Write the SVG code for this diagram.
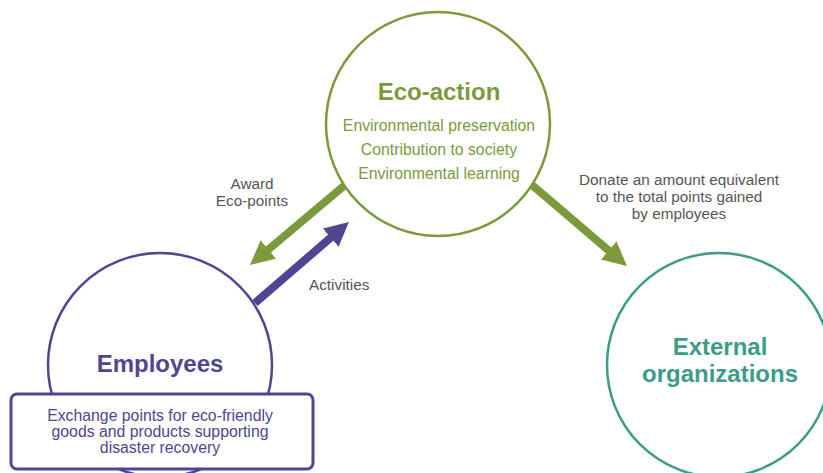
<svg xmlns="http://www.w3.org/2000/svg" width="823" height="473" viewBox="0 0 823 473">
<style>
  .circ { fill: #fff; stroke-width: 2.5; }
  .title { font-family: "Liberation Sans", Arial, sans-serif; font-weight: bold; font-size: 24px; text-anchor: middle; }
  .body { font-family: "Liberation Sans", Arial, sans-serif; font-size: 15.8px; text-anchor: middle; }
  .lbl { font-family: "Liberation Sans", Arial, sans-serif; font-size: 15.3px; fill: #555; }
  .green { fill: #7b9a3b; }
  .purple { fill: #4e4690; }
  .teal { fill: #3d9c89; }
</style>
<defs>
  <marker id="hg" viewBox="0 0 10 10" refX="4" refY="5" markerWidth="3" markerHeight="3" markerUnits="strokeWidth" orient="auto">
    <path d="M0,0 L10,5 L0,10 z" fill="#7b9a3b"/>
  </marker>
  <marker id="hp" viewBox="0 0 10 10" refX="4" refY="5" markerWidth="3" markerHeight="3" markerUnits="strokeWidth" orient="auto">
    <path d="M0,0 L10,5 L0,10 z" fill="#4e4690"/>
  </marker>
</defs>
<rect width="823" height="473" fill="#fff"/>
<g id="connectors">
  <line x1="345" y1="185" x2="261" y2="255.7" stroke="#7b9a3b" stroke-width="8" marker-end="url(#hg)"/>
  <line x1="255" y1="303" x2="338" y2="231.4" stroke="#4e4690" stroke-width="8" marker-end="url(#hp)"/>
  <line x1="532" y1="185" x2="616" y2="256.7" stroke="#7b9a3b" stroke-width="8" marker-end="url(#hg)"/>
  <text class="lbl" x="252" y="189" text-anchor="middle">Award</text>
  <text class="lbl" x="252" y="206" text-anchor="middle">Eco-points</text>
  <text class="lbl" x="309" y="290">Activities</text>
  <text class="lbl" x="679" y="185" text-anchor="middle">Donate an amount equivalent</text>
  <text class="lbl" x="679" y="202" text-anchor="middle">to the total points gained</text>
  <text class="lbl" x="679" y="219" text-anchor="middle">by employees</text>
</g>
<g id="eco-action">
  <circle class="circ" cx="438" cy="124" r="112" stroke="#7b9a3b"/>
  <text class="title green" x="439" y="100">Eco-action</text>
  <text class="body green" x="439" y="131">Environmental preservation</text>
  <text class="body green" x="439" y="155">Contribution to society</text>
  <text class="body green" x="439" y="179">Environmental learning</text>
</g>
<g id="employees">
  <circle class="circ" cx="160" cy="365" r="112" stroke="#4e4690"/>
  <text class="title purple" x="160" y="372">Employees</text>
  <rect x="11" y="394" width="302" height="75" rx="6" fill="#fff" stroke="#4e4690" stroke-width="3"/>
  <text class="body purple" x="160" y="421">Exchange points for eco-friendly</text>
  <text class="body purple" x="160" y="437">goods and products supporting</text>
  <text class="body purple" x="160" y="453">disaster recovery</text>
</g>
<g id="external">
  <circle class="circ" cx="719" cy="365" r="112" stroke="#3d9c89"/>
  <text class="title teal" x="720" y="355">External</text>
  <text class="title teal" x="720" y="382">organizations</text>
</g>
</svg>
